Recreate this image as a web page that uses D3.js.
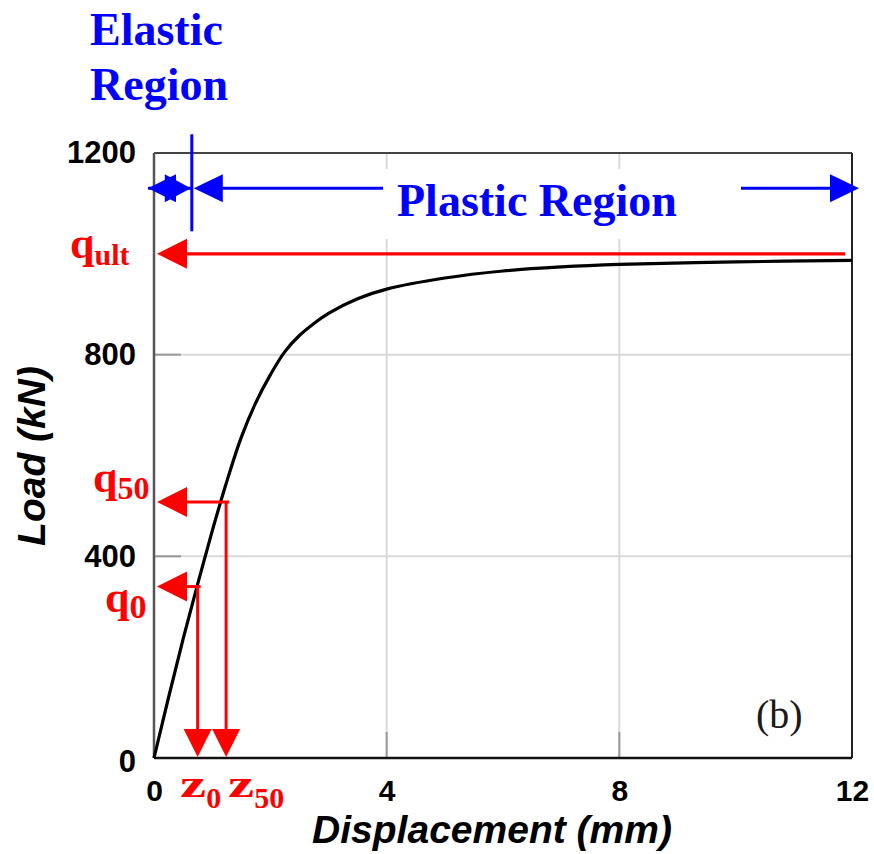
<!DOCTYPE html>
<html>
<head>
<meta charset="utf-8">
<script src="https://cdn.jsdelivr.net/npm/d3@7"></script>
<style>
  body { margin: 0; background: #fff; }
  svg { display: block; }
</style>
</head>
<body>
<svg id="chart" width="874" height="854"></svg>
<script>
// Load–displacement curve of the pile test
const displacement = [0, 0.25, 0.5, 0.75, 1.0, 1.25, 1.5, 1.75, 2.0, 2.25, 2.5, 2.75, 3.0, 3.5, 4.0, 5.0, 6.0, 7.0, 8.0, 10.0, 12.0];
const load         = [0, 120, 236, 345, 450, 548, 636, 705, 760, 806, 838, 862, 882, 911, 930, 952, 966, 974, 979, 984, 987];

// Axis ticks and grid
const xTicks = [0, 4, 8, 12];
const yTicks = [0, 400, 800, 1200];
const xGrid = [4, 8];
const yGrid = [400, 800];

// Characteristic points: [load (kN), displacement (mm)]
const ultimate = [1000, 11.88];   // q_ult line runs to this displacement
const point50  = [508, 1.24];     // q50 / z50
const point0   = [340, 0.75];     // q0 / z0
const elasticLimit = [0.65];      // boundary between elastic and plastic regions (mm)
const regionRowLoad = [1130];     // level of the region arrows

const svg = d3.select("#chart");
const W = 874, H = 854;
const plot = { left: 154, right: 852, top: 153, bottom: 758 };

const x = d3.scaleLinear().domain([0, 12]).range([plot.left, plot.right]);
const y = d3.scaleLinear().domain([0, 1200]).range([plot.bottom, plot.top]);

const RED = "#ff0000", BLUE = "#0000ff";
const SANS = "'Liberation Sans', Arial, Helvetica, sans-serif";
const SERIF = "'Liberation Serif', 'Times New Roman', Times, serif";

svg.append("rect").attr("width", W).attr("height", H).attr("fill", "#fff");

// Grid lines
svg.append("g").selectAll("line").data(xGrid).join("line")
  .attr("x1", d => x(d)).attr("x2", d => x(d))
  .attr("y1", plot.top).attr("y2", plot.bottom)
  .attr("stroke", "#d9d9d9").attr("stroke-width", 2);
svg.append("g").selectAll("line").data(yGrid).join("line")
  .attr("x1", plot.left).attr("x2", plot.right)
  .attr("y1", d => y(d)).attr("y2", d => y(d))
  .attr("stroke", "#d9d9d9").attr("stroke-width", 2);

// Short inward ticks
svg.append("g").selectAll("line").data(yGrid).join("line")
  .attr("x1", plot.left).attr("x2", plot.left + 27)
  .attr("y1", d => y(d)).attr("y2", d => y(d))
  .attr("stroke", "#9a9a9a").attr("stroke-width", 2);
svg.append("g").selectAll("line").data(xGrid).join("line")
  .attr("x1", d => x(d)).attr("x2", d => x(d))
  .attr("y1", plot.bottom).attr("y2", plot.bottom - 26)
  .attr("stroke", "#9a9a9a").attr("stroke-width", 2);

// Frame
svg.append("line").attr("x1", plot.left).attr("x2", plot.right)
  .attr("y1", plot.top).attr("y2", plot.top)
  .attr("stroke", "#444").attr("stroke-width", 2);
svg.append("line").attr("x1", plot.right).attr("x2", plot.right)
  .attr("y1", plot.top).attr("y2", plot.bottom)
  .attr("stroke", "#222").attr("stroke-width", 2);
svg.append("line").attr("x1", plot.left).attr("x2", plot.left)
  .attr("y1", plot.top).attr("y2", plot.bottom)
  .attr("stroke", "#555").attr("stroke-width", 2.5);
svg.append("line").attr("x1", plot.left).attr("x2", plot.right)
  .attr("y1", plot.bottom).attr("y2", plot.bottom)
  .attr("stroke", "#111").attr("stroke-width", 2.5);

// Axes (labels only)
const yAxis = svg.append("g").attr("transform", `translate(${plot.left},0)`)
  .call(d3.axisLeft(y).tickValues(yTicks).tickSize(0).tickPadding(18).tickFormat(d3.format("d")));
const xAxis = svg.append("g").attr("transform", `translate(0,${plot.bottom})`)
  .call(d3.axisBottom(x).tickValues(xTicks).tickSize(0).tickPadding(22).tickFormat(d3.format("d")));
yAxis.select(".domain").remove();
xAxis.select(".domain").remove();
yAxis.selectAll("text")
  .attr("font-family", SANS).attr("font-weight", "bold")
  .attr("font-size", 31).attr("fill", "#000");
xAxis.selectAll("text")
  .attr("font-family", SANS).attr("font-weight", "bold")
  .attr("font-size", 30).attr("fill", "#000");
yAxis.selectAll(".tick").filter(d => d === 0).select("text").attr("dy", "0.45em");

// Axis titles
svg.append("text")
  .attr("x", 492).attr("y", 843)
  .attr("text-anchor", "middle")
  .attr("font-family", SANS).attr("font-weight", "bold").attr("font-style", "italic")
  .attr("font-size", 39).attr("fill", "#000")
  .text("Displacement (mm)");
svg.append("text")
  .attr("transform", "translate(45,456) rotate(-90)")
  .attr("text-anchor", "middle")
  .attr("font-family", SANS).attr("font-weight", "bold").attr("font-style", "italic")
  .attr("font-size", 39).attr("fill", "#000")
  .text("Load (kN)");

// Region arrows
const rowY = y(regionRowLoad[0]);
const xe = x(elasticLimit[0]);
const tri = (pts) => "M" + pts.map(p => p.join(",")).join("L") + "Z";
const blue = svg.append("g");

blue.append("line").attr("x1", plot.left - 6).attr("x2", xe)
  .attr("y1", rowY).attr("y2", rowY).attr("stroke", BLUE).attr("stroke-width", 3);
blue.append("path").attr("fill", BLUE)
  .attr("d", tri([[plot.left - 6, rowY], [plot.left + 22, rowY - 14], [plot.left + 22, rowY + 14]]));
blue.append("path").attr("fill", BLUE)
  .attr("d", tri([[xe - 1, rowY], [xe - 27, rowY - 14], [xe - 27, rowY + 14]]));
blue.append("line").attr("x1", xe).attr("x2", xe)
  .attr("y1", rowY - 54).attr("y2", rowY + 43)
  .attr("stroke", BLUE).attr("stroke-width", 3);

blue.append("line").attr("x1", xe + 20).attr("x2", x(12) - 20)
  .attr("y1", rowY).attr("y2", rowY).attr("stroke", BLUE).attr("stroke-width", 3);
blue.append("path").attr("fill", BLUE)
  .attr("d", tri([[xe + 2, rowY], [xe + 31, rowY - 14], [xe + 31, rowY + 14]]));
blue.append("path").attr("fill", BLUE)
  .attr("d", tri([[x(12) + 7, rowY], [x(12) - 22, rowY - 14], [x(12) - 22, rowY + 14]]));

// Label box for the plastic region (masks the arrow and grid behind the text)
svg.append("rect").attr("x", 383).attr("y", 169).attr("width", 358).attr("height", 70).attr("fill", "#fff");
svg.append("text")
  .attr("x", 397).attr("y", 216)
  .attr("font-family", SERIF).attr("font-weight", "bold")
  .attr("font-size", 46).attr("fill", BLUE)
  .text("Plastic Region");

// Elastic region title
const el = svg.append("text")
  .attr("font-family", SERIF).attr("font-weight", "bold")
  .attr("font-size", 46).attr("fill", BLUE);
el.append("tspan").attr("x", 90).attr("y", 45).text("Elastic");
el.append("tspan").attr("x", 90).attr("y", 100).text("Region");

// Load–displacement curve
const curve = d3.line()
  .x((d, i) => x(displacement[i]))
  .y(d => y(d))
  .curve(d3.curveCatmullRom.alpha(0.5));
svg.append("path")
  .attr("d", curve(load))
  .attr("fill", "none").attr("stroke", "#000").attr("stroke-width", 3.2)
  .attr("stroke-linejoin", "round");

// Red characteristic arrows
const red = svg.append("g");
const leftHead = yy => tri([[plot.left + 3, yy], [plot.left + 33, yy - 15], [plot.left + 33, yy + 15]]);
const downHead = xx => tri([[xx, plot.bottom - 1], [xx - 14, plot.bottom - 29], [xx + 14, plot.bottom - 29]]);

// q_ult
red.append("line").attr("x1", plot.left + 20).attr("x2", x(ultimate[1]))
  .attr("y1", y(ultimate[0])).attr("y2", y(ultimate[0]))
  .attr("stroke", RED).attr("stroke-width", 3.2);
red.append("path").attr("fill", RED).attr("d", leftHead(y(ultimate[0])));

// q50 / z50 and q0 / z0
[point50, point0].forEach(([q, z]) => {
  red.append("line").attr("x1", plot.left + 20).attr("x2", x(z) + 3)
    .attr("y1", y(q)).attr("y2", y(q))
    .attr("stroke", RED).attr("stroke-width", 3);
  red.append("line").attr("x1", x(z)).attr("x2", x(z))
    .attr("y1", y(q)).attr("y2", plot.bottom - 20)
    .attr("stroke", RED).attr("stroke-width", 3);
  red.append("path").attr("fill", RED).attr("d", leftHead(y(q)));
  red.append("path").attr("fill", RED).attr("d", downHead(x(z)));
});

// Red symbols with subscripts
function symbol(main, sub, mx, my, msize, stretch, sy, ssize) {
  const g = svg.append("g").attr("fill", RED)
    .attr("font-family", SERIF).attr("font-weight", "bold");
  const m = g.append("text")
    .attr("transform", `translate(${mx},${my}) scale(${stretch},1)`)
    .attr("font-size", msize).text(main);
  const w = m.node().getComputedTextLength() * stretch;
  g.append("text").attr("x", mx + w).attr("y", sy)
    .attr("font-size", ssize).text(sub);
}
symbol("q", "ult", 70, 258, 44, 1, 265, 30);
symbol("q", "50", 93, 492, 44, 1, 499, 32);
symbol("q", "0", 105, 612, 44, 1, 618, 34);
symbol("z", "0", 180, 797, 38, 1.55, 808, 30);
symbol("z", "50", 228, 797, 38, 1.55, 808, 30);

// Panel tag
svg.append("text")
  .attr("x", 756).attr("y", 728)
  .attr("font-family", SERIF).attr("font-size", 40).attr("fill", "#1a1a1a")
  .text("(b)");
</script>
</body>
</html>
